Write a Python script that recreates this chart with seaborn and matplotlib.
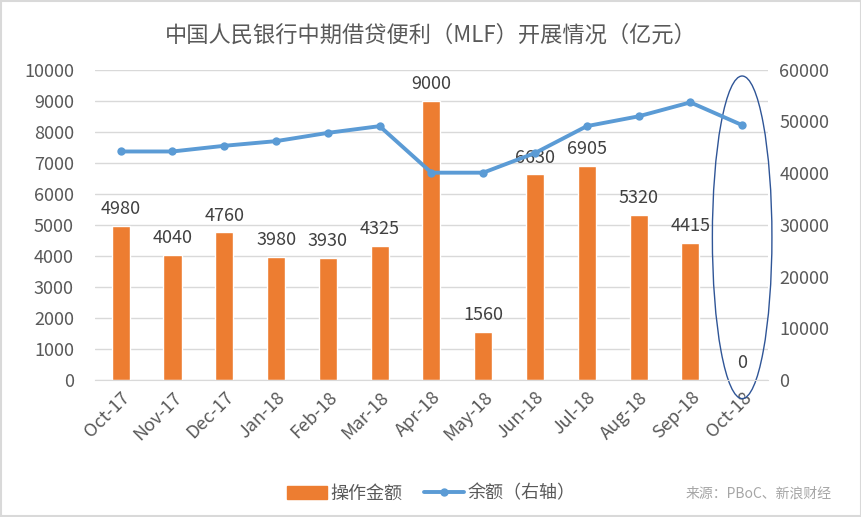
import matplotlib
matplotlib.use("Agg")
import matplotlib.pyplot as plt
import seaborn as sns
import pandas as pd
from matplotlib.patches import Ellipse, Rectangle
from matplotlib.lines import Line2D

sns.set_style("white")
plt.rcParams['font.family'] = ['Noto Sans CJK SC', 'DejaVu Sans']

# 数据
months = ['Oct-17', 'Nov-17', 'Dec-17', 'Jan-18', 'Feb-18', 'Mar-18', 'Apr-18',
          'May-18', 'Jun-18', 'Jul-18', 'Aug-18', 'Sep-18', 'Oct-18']
operation = [4980, 4040, 4760, 3980, 3930, 4325, 9000, 1560, 6630, 6905, 5320, 4415, 0]
balance = [44200, 44200, 45300, 46200, 47800, 49100, 40100, 40100, 43900, 49100,
           51000, 53700, 49300]

df = pd.DataFrame({'month': months, 'operation': operation, 'balance': balance})

orange = '#ED7D31'
blue = '#5B9BD5'
txt = '#595959'

fig = plt.figure(figsize=(8.62, 5.17), dpi=100)
ax = fig.add_axes([0.110, 0.265, 0.781, 0.600])

sns.barplot(data=df, x='month', y='operation', color=orange, width=0.35,
            saturation=1, ax=ax)
ax.set_ylim(0, 10000)
ax.set_yticks(range(0, 10001, 1000))
ax.grid(axis='y', color='#D9D9D9', linewidth=1)
ax.set_axisbelow(True)
ax.set_xlim(-0.5, len(months) - 0.5)

# 数据标签
for i, v in enumerate(operation):
    ax.text(i, v + 250, str(v), ha='center', va='bottom', fontsize=13, color='#404040')

ax2 = ax.twinx()
sns.lineplot(data=df, x='month', y='balance', color=blue, linewidth=2.8,
             marker='o', markersize=6, markeredgewidth=0, ax=ax2, sort=False)
ax2.set_ylim(0, 60000)
ax2.set_yticks(range(0, 60001, 10000))
ax2.set_xlim(-0.5, len(months) - 0.5)

for a in (ax, ax2):
    for s in a.spines.values():
        s.set_visible(False)
    a.set_xlabel('')
    a.set_ylabel('')
    a.tick_params(axis='y', length=0, labelsize=13, labelcolor=txt)

ax.spines['bottom'].set_visible(True)
ax.spines['bottom'].set_color('#D9D9D9')
ax.set_xticks(range(len(months)))
ax.set_xticks([i - 0.5 for i in range(len(months) + 1)], minor=True)
ax.tick_params(axis='x', which='major', length=0, labelsize=13, labelcolor=txt, pad=6)
ax.tick_params(axis='x', which='minor', length=5, color='#D9D9D9')
ax.set_xticklabels(months, rotation=45, ha='right', rotation_mode='anchor')
ax.tick_params(axis='y', pad=15)
ax2.tick_params(axis='y', pad=8)

# 标注椭圆
ell = Ellipse((12, 4600), width=1.15, height=10400, fill=False,
              edgecolor='#2F5597', linewidth=1, clip_on=False)
ax.add_patch(ell)

fig.suptitle('中国人民银行中期借贷便利（MLF）开展情况（亿元）', y=0.955,
             fontsize=16, color=txt, fontweight='medium')

handles = [Rectangle((0, 0), 1, 1, color=orange),
           Line2D([0], [0], color=blue, linewidth=2.8, marker='o', markersize=5)]
fig.legend(handles, ['操作金额', '余额（右轴）'], loc='center', ncol=2,
           bbox_to_anchor=(0.5, 0.045), frameon=False, fontsize=13,
           labelcolor=txt, handlelength=2.2, columnspacing=1.2, handletextpad=0.2)

fig.text(0.965, 0.045, '来源：PBoC、新浪财经', ha='right', va='center',
         fontsize=10, color='#A6A6A6')

fig.patches.append(Rectangle((0.001, 0.001), 0.998, 0.997, transform=fig.transFigure,
                             fill=False, edgecolor='#D9D9D9', linewidth=1.5))

fig.savefig('out.png', dpi=100)
